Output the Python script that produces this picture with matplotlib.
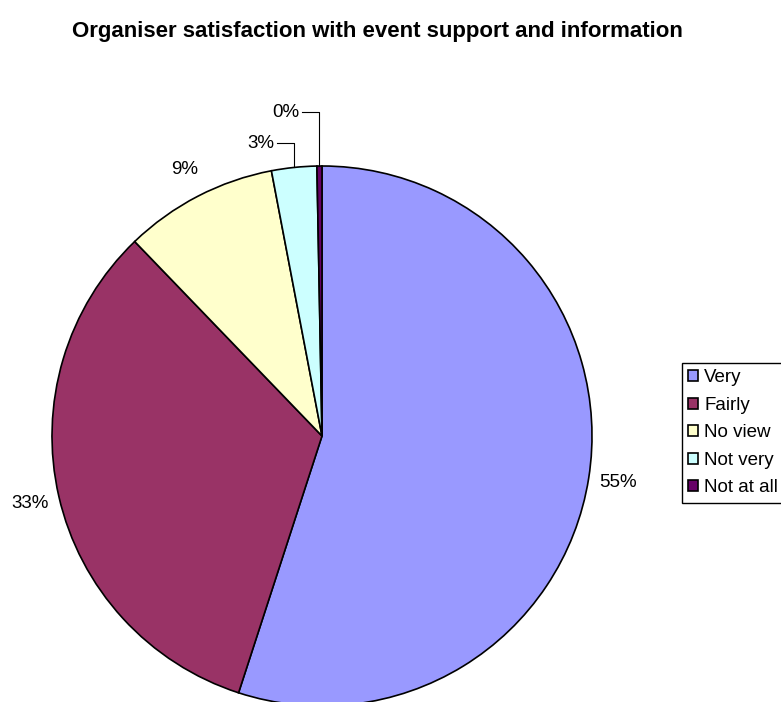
import numpy as np
import matplotlib
matplotlib.use("Agg")
import matplotlib.pyplot as plt

plt.rcParams['font.family'] = ['Liberation Sans', 'DejaVu Sans']

# survey responses (% of organisers)
categories = ['Very', 'Fairly', 'No view', 'Not very', 'Not at all']
shares = [55.0, 32.8, 9.2, 2.7, 0.3]
colours = ['#9999FF', '#993366', '#FFFFCC', '#CCFFFF', '#660066']

W, H = 781, 702
cx, cy, r = 322, H - 436, 270

fig = plt.figure(figsize=(W / 100, H / 100), dpi=100)
ax = fig.add_axes([0, 0, 1, 1])

wedges, _ = ax.pie(shares, colors=colours, startangle=90, counterclock=False,
                   center=(cx, cy), radius=r,
                   wedgeprops=dict(edgecolor='black', linewidth=1.2))
ax.set_xlim(0, W)
ax.set_ylim(0, H)
ax.set_aspect('equal')
ax.axis('off')

# percentage labels; the two thin slices get leader lines
leader_rise = {3: 24, 4: 54}
for i, w in enumerate(wedges):
    mid = np.deg2rad((w.theta1 + w.theta2) / 2)
    txt = f"{shares[i]:.0f}%"
    if i in leader_rise:
        ex, ey = cx + r * np.cos(mid), cy + r * np.sin(mid)
        ty = ey + leader_rise[i]
        ax.plot([ex, ex, ex - 17], [ey, ty, ty], color='black', lw=0.8)
        ax.text(ex - 20, ty, txt, ha='right', va='center', fontsize=13.5)
    else:
        lr = r * 1.11
        ax.text(cx + lr * np.cos(mid), cy + lr * np.sin(mid), txt,
                ha='center', va='center', fontsize=13.5)

fig.text(377 / W, 1 - 37 / H, 'Organiser satisfaction with event support and information',
         ha='center', va='baseline', fontsize=16, fontweight='bold')

leg = fig.legend(wedges, categories, loc='upper left',
                 bbox_to_anchor=(682 / W, 1 - 363 / H), borderaxespad=0,
                 fontsize=13.5, fancybox=False, edgecolor='black', framealpha=1,
                 handlelength=0.53, handleheight=0.53, handletextpad=0.32,
                 borderpad=0.34, labelspacing=0.56)
leg.get_frame().set_linewidth(1.0)

fig.savefig('out.png', dpi=100)
